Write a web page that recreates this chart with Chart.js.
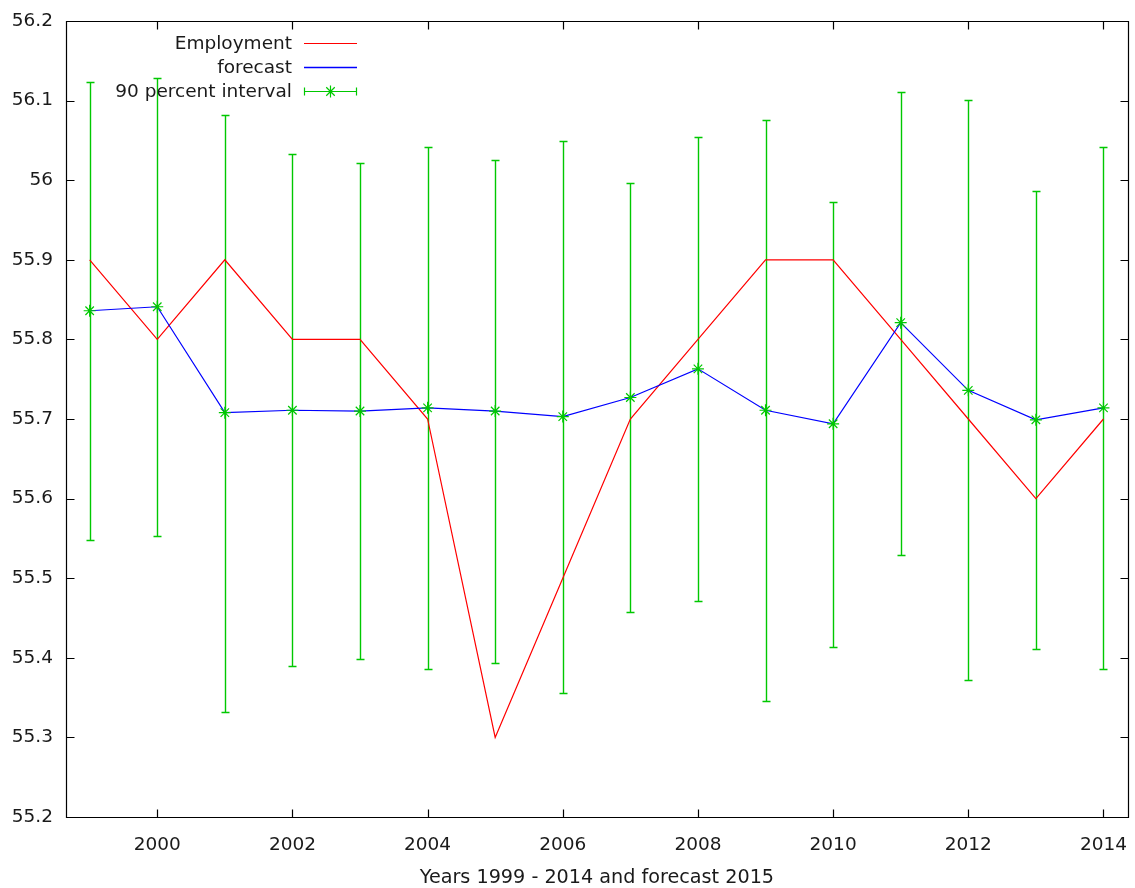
<!DOCTYPE html>
<html>
<head>
<meta charset="utf-8">
<script src="https://cdn.jsdelivr.net/npm/chart.js@4.4.0/dist/chart.umd.min.js"></script>
<style>
    html, body { margin: 0; padding: 0; background: #fff; }
    #wrap { width: 1135px; height: 888px; }
</style>
</head>
<body>
<div id="wrap"><canvas id="myChart" width="1135" height="888"></canvas></div>
<script>
// Данные графика
const years = [1999, 2000, 2001, 2002, 2003, 2004, 2005, 2006, 2007, 2008, 2009, 2010, 2011, 2012, 2013, 2014];
const employment = [55.9, 55.8, 55.9, 55.8, 55.8, 55.7, 55.3, 55.5, 55.7, 55.8, 55.9, 55.9, 55.8, 55.7, 55.6, 55.7];
const forecast = [55.836, 55.841, 55.708, 55.711, 55.710, 55.714, 55.710, 55.703, 55.727, 55.763, 55.711, 55.694, 55.821, 55.736, 55.699, 55.714];
const intervalLow = [55.548, 55.553, 55.332, 55.390, 55.399, 55.386, 55.393, 55.356, 55.457, 55.471, 55.346, 55.413, 55.529, 55.372, 55.411, 55.386];
const intervalHigh = [56.123, 56.128, 56.082, 56.033, 56.021, 56.042, 56.026, 56.049, 55.997, 56.054, 56.076, 55.973, 56.111, 56.101, 55.986, 56.042];
const xTicks = [2000, 2002, 2004, 2006, 2008, 2010, 2012, 2014];
const yTicks = [55.2, 55.3, 55.4, 55.5, 55.6, 55.7, 55.8, 55.9, 56.0, 56.1, 56.2];
const seriesLabels = ['Employment', 'forecast', '90 percent interval'];
const xTitle = 'Years 1999 - 2014 and forecast 2015';

const RED = '#ff0000';
const BLUE = '#0000ff';
const GREEN = '#00c800';
const TEXT = '#1a1a1a';
const FONT = {family: 'DejaVu Sans', size: 18.5};

const toPoints = (values) => years.map((x, i) => ({x, y: values[i]}));

// Рамка, засечки внутрь, интервалы и легенда в стиле gnuplot
const gnuplotPlugin = {
    id: 'gnuplotPlugin',
    beforeDatasetsDraw(chart) {
        // интервалы рисуем под линиями
        const ctx = chart.ctx;
        const xs = chart.scales.x;
        const ys = chart.scales.y;
        ctx.save();
        ctx.strokeStyle = GREEN;
        ctx.lineWidth = 1.4;
        years.forEach((year, i) => {
            const px = Math.round(xs.getPixelForValue(year)) + 0.5;
            const top = Math.round(ys.getPixelForValue(intervalHigh[i])) + 0.5;
            const bottom = Math.round(ys.getPixelForValue(intervalLow[i])) + 0.5;
            ctx.beginPath();
            ctx.moveTo(px, top);
            ctx.lineTo(px, bottom);
            ctx.moveTo(px - 4, top);
            ctx.lineTo(px + 4, top);
            ctx.moveTo(px - 4, bottom);
            ctx.lineTo(px + 4, bottom);
            ctx.stroke();
        });
        ctx.restore();
    },
    afterDraw(chart) {
        const ctx = chart.ctx;
        const area = chart.chartArea;
        const xs = chart.scales.x;
        const ys = chart.scales.y;
        const l = Math.round(area.left) + 0.5;
        const r = Math.round(area.right) + 0.5;
        const t = Math.round(area.top) + 0.5;
        const b = Math.round(area.bottom) + 0.5;
        const tick = 8;

        ctx.save();
        ctx.strokeStyle = '#000';
        ctx.lineWidth = 1.2;
        ctx.beginPath();
        ctx.rect(l, t, r - l, b - t);
        xTicks.forEach((v) => {
            const px = Math.round(xs.getPixelForValue(v)) + 0.5;
            ctx.moveTo(px, b);
            ctx.lineTo(px, b - tick);
            ctx.moveTo(px, t);
            ctx.lineTo(px, t + tick);
        });
        yTicks.forEach((v) => {
            const py = Math.round(ys.getPixelForValue(v)) + 0.5;
            ctx.moveTo(l, py);
            ctx.lineTo(l + tick, py);
            ctx.moveTo(r, py);
            ctx.lineTo(r - tick, py);
        });
        ctx.stroke();

        // Легенда: текст выровнен вправо, образец линии после него
        const colors = [RED, BLUE, GREEN];
        const textRight = 292;
        const sx0 = 304;
        const sx1 = 357;
        ctx.font = FONT.size + 'px ' + FONT.family;
        ctx.textAlign = 'right';
        ctx.textBaseline = 'middle';
        seriesLabels.forEach((label, i) => {
            const y = 43 + i * 24;
            ctx.fillStyle = TEXT;
            ctx.fillText(label, textRight, y + 1);
            const py = Math.round(y) + 0.5;
            ctx.strokeStyle = colors[i];
            ctx.lineWidth = i === 1 ? 1.6 : 1.2;
            ctx.beginPath();
            ctx.moveTo(sx0, py);
            ctx.lineTo(sx1, py);
            if (i === 2) {
                ctx.moveTo(sx0 + 0.5, py - 4);
                ctx.lineTo(sx0 + 0.5, py + 4);
                ctx.moveTo(sx1 - 0.5, py - 4);
                ctx.lineTo(sx1 - 0.5, py + 4);
            }
            ctx.stroke();
            if (i === 2) {
                Chart.helpers.drawPoint(ctx, {pointStyle: 'star', radius: 6, borderWidth: 1.2}, (sx0 + sx1) / 2, py);
            }
        });
        ctx.restore();
    }
};

const ctx = document.getElementById('myChart').getContext('2d');

new Chart(ctx, {
    type: 'scatter',
    data: {
        datasets: [
            {
                label: seriesLabels[0],
                data: toPoints(employment),
                showLine: true,
                borderColor: RED,
                borderWidth: 1.2,
                pointRadius: 0,
                order: 3
            },
            {
                label: seriesLabels[1],
                data: toPoints(forecast),
                showLine: true,
                borderColor: BLUE,
                borderWidth: 1.2,
                pointRadius: 0,
                order: 2
            },
            {
                label: seriesLabels[2],
                data: toPoints(forecast),
                showLine: false,
                pointStyle: 'star',
                pointRadius: 6,
                pointBorderColor: GREEN,
                pointBorderWidth: 1.2,
                order: 1
            }
        ]
    },
    options: {
        responsive: false,
        animation: false,
        devicePixelRatio: 1,
        layout: {padding: {left: 0, right: 6, top: 21, bottom: 0}},
        plugins: {
            legend: {display: false},
            tooltip: {enabled: false}
        },
        scales: {
            x: {
                type: 'linear',
                min: 1998.65,
                max: 2014.36,
                afterBuildTicks: (scale) => { scale.ticks = xTicks.map((v) => ({value: v})); },
                afterFit: (scale) => {
                    scale.height = 71;
                    scale.paddingLeft = 0;
                    scale.paddingRight = 0;
                },
                grid: {display: false, drawTicks: false},
                border: {display: false},
                ticks: {
                    color: TEXT,
                    font: FONT,
                    padding: 17,
                    maxRotation: 0,
                    autoSkip: false,
                    callback: (v) => String(v)
                },
                title: {
                    display: true,
                    text: xTitle,
                    color: TEXT,
                    font: {family: FONT.family, size: 19.2, lineHeight: 1},
                    padding: {top: 0, bottom: 0}
                }
            },
            y: {
                min: 55.2,
                max: 56.2,
                afterBuildTicks: (scale) => { scale.ticks = yTicks.map((v) => ({value: v})); },
                afterFit: (scale) => {
                    scale.width = 66;
                    scale.paddingTop = 0;
                    scale.paddingBottom = 0;
                },
                grid: {display: false, drawTicks: false},
                border: {display: false},
                ticks: {
                    color: TEXT,
                    font: FONT,
                    padding: 13,
                    autoSkip: false,
                    callback: (v) => String(Number(v.toFixed(1)))
                }
            }
        }
    },
    plugins: [gnuplotPlugin]
});
</script>
</body>
</html>
